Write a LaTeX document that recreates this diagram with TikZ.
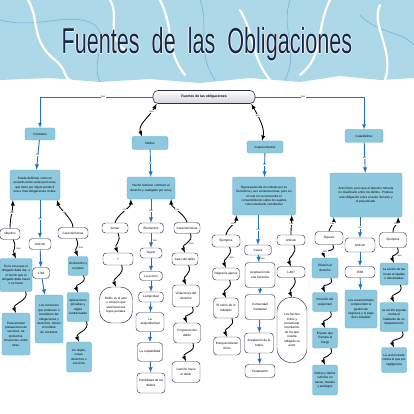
\documentclass[tikz,border=0pt]{standalone}
\usepackage{fontspec}
\setmainfont{Liberation Sans}
\usetikzlibrary{positioning}
\usetikzlibrary{calc}
\definecolor{celeste}{RGB}{140,200,222}
\definecolor{celesteborde}{RGB}{105,170,198}
\definecolor{marino}{RGB}{38,48,78}
\definecolor{azulflecha}{RGB}{32,112,188}
\definecolor{mapa}{RGB}{172,216,232}
\definecolor{frontera}{RGB}{120,178,222}
\definecolor{titulo}{RGB}{20,40,72}
\newcommand{\chica}{\fontsize{3.1}{4.4}\selectfont}
\newcommand{\etiq}{\fontsize{2.3}{2.5}\selectfont}
\tikzset{
  mapa conceptual/.style={
    concepto/.style={rectangle, align=center, font=\chica, inner sep=0.6pt},
    caja azul/.style={concepto, rounded corners=2pt, fill=celeste, draw=celesteborde, line width=0.3pt},
    caja blanca/.style={concepto, rounded corners=3.5pt, fill=white, draw=marino, line width=0.45pt},
    caja ovalo/.style={caja blanca, rounded corners=12pt},
    tam/.style 2 args={minimum width=##1pt, minimum height=##2pt},
    etiqueta/.style={fill=white, inner sep=0.4pt, font=\etiq},
    flecha azul/.style={draw=azulflecha, line width=0.9pt, ->},
    linea azul/.style={draw=azulflecha, line width=0.7pt, ->},
    curva/.style={draw=black, line width=0.85pt},
    ese/.style={to path={.. controls +(4,9) and +(-4,-9) .. (\tikztotarget) \tikztonodes}},
  },
  rio/.style={white, line width=2.2pt, line cap=round},
  borde mapa/.style={frontera, line width=0.6pt}
}

\begin{document}
\begin{tikzpicture}[x=1pt,y=-1pt,>=latex,mapa conceptual]
\useasboundingbox (0,0) rectangle (414,414);

% cabecera con el mapa
\fill[mapa] (0,0) -- (414,0) -- (414,78) -- (380,80) -- (340,76) -- (300,82) -- (250,78)
  -- (200,83) -- (150,79) -- (100,82) -- (50,78) -- (0,80) -- cycle;
\draw[borde mapa] (0,20) .. controls (40,30) and (70,10) .. (95,25) .. controls (110,40) and (90,60) .. (100,82);
\draw[borde mapa] (200,0) .. controls (210,25) and (195,50) .. (215,80);
\draw[borde mapa] (290,0) .. controls (280,30) and (300,50) .. (285,80);
\draw[borde mapa] (360,15) .. controls (380,35) and (400,30) .. (414,45);
\draw[rio] (28,0) .. controls (40,20) and (30,40) .. (55,60) .. controls (70,72) and (60,78) .. (75,82);
\draw[rio] (110,0) .. controls (120,15) and (105,35) .. (125,50);
\draw[rio] (160,0) .. controls (175,30) and (165,50) .. (185,75);
\draw[rio] (240,10) .. controls (255,35) and (250,55) .. (270,80);
\draw[rio] (330,0) .. controls (315,30) and (325,55) .. (300,75);
\draw[rio] (380,5) .. controls (370,25) and (395,50) .. (385,80);

% titulo
\foreach \dx/\dy in {0.7/0,-0.7/0,0/0.7,0/-0.7}
  \node[anchor=base, text=white] at (207+\dx,54+\dy)
    {\fontsize{36}{36}\selectfont\scalebox{0.6}[1]{Fuentes\hspace{10pt} de\hspace{10pt} las\hspace{10pt} Obligaciones}};
\node[anchor=base, text=titulo] (titulo) at (207,54)
  {\fontsize{36}{36}\selectfont\scalebox{0.6}[1]{Fuentes\hspace{10pt} de\hspace{10pt} las\hspace{10pt} Obligaciones}};

% raiz
\node[concepto, tam={102}{13}, rounded corners=5pt, draw=marino, line width=0.6pt,
  top color=white, bottom color=blue!12!gray!30, font=\fontsize{3.4}{4}\selectfont\bfseries]
  (raiz) at (204,97) {Fuentes de las obligaciones};

% contratos
\node[caja azul, tam={30}{12}] (contratos) at (40,134) {Contratos};
\node[caja azul, tam={50}{30}] (ctrdesc) at (35,185)
  {Puede definirse como un\\acuerdo entre varias personas,\\que tiene por objeto producir\\una o mas obligaciones civiles.};
\node[caja blanca, tam={20}{11}] (objetivo) at (10,234) {Objetivo};
\node[caja blanca, tam={22}{11}] (artcontrato) at (40,244) {Articulo};
\node[caja blanca, tam={30}{11}] (caraccontrato) at (73,233) {Características};
\node[caja azul, tam={32}{33}] (objdesc) at (16,275)
  {Es la cosa que el\\obligado debe dar, o\\el hecho que el\\obligado debe hacer\\o no hacer};
\node[caja azul, tam={28}{42}] (acordar) at (16,334)
  {Para acordar\\prestaciones de\\servicios, de\\productos,\\locaciones, entre\\otras.};
\node[caja blanca, tam={17}{11}] (art1793) at (41,273) {1793};
\node[caja azul, tam={28}{48}] (convenios) at (49,319)
  {Los convenios\\que producen o\\transfieren las\\obligaciones y\\derechos, toman\\el nombre\\de contratos};
\node[caja azul, tam={20}{19}] (derecho) at (78,266) {Un derecho y\\un plazo};
\node[caja azul, tam={22}{29}] (aplicaciones) at (78,307) {Aplicaciones\\privadas y\\reglas\\contractuales};
\node[caja azul, tam={25}{30}] (objeto) at (79,357) {Un objeto,\\cosas,\\derechos o\\servicios};

% delitos
\node[caja azul, tam={36}{13}] (delitos) at (150,143) {Delitos};
\node[caja azul, tam={48}{22}] (delidesc) at (151,188) {Hecho humano contrario al\\derecho y castigado por la ley};
\node[caja blanca, tam={26}{10}] (actuar) at (115,228) {Actuar};
\node[caja blanca, tam={25}{10}] (elementos) at (151,228) {Elementos};
\node[caja blanca, tam={26}{11}] (caracdelito) at (187,228) {Características};
\node[caja blanca, tam={30}{12}] (pregunta) at (118,259) {?};
\node[caja ovalo, tam={33}{36}] (delitodef) at (116,305) {Delito es el acto\\u omisión que\\sancionan las\\leyes penales};
\node[caja blanca, tam={22}{10}] (sujeto) at (151,253) {Sujeto};
\node[caja blanca, tam={23}{9}] (accion) at (151,276) {La acción};
\node[caja blanca, tam={25}{10}] (tipicidad) at (151,297) {La tipicidad};
\node[caja blanca, tam={28}{19}] (antijur) at (150,322) {La\\antijuridicidad};
\node[caja blanca, tam={25}{19}] (culpab) at (150,352) {La culpabilidad};
\node[caja blanca, tam={28}{20}] (punib) at (151,383) {Punibilidad de los\\delitos};
\node[caja blanca, tam={26}{12}] (caso) at (185,259) {Caso del delito};
\node[caja blanca, tam={27}{22}] (violaciones) at (186,296) {Violaciones del\\derecho};
\node[caja blanca, tam={27}{20}] (propuesto) at (187,333) {Propuesto del\\delito};
\node[caja blanca, tam={28}{21}] (camino) at (186,372) {Camino hacia\\el delito};

% cuasicontratos
\node[caja azul, tam={36}{12}] (cuasicontratos) at (265,147) {Cuasicontratos};
\node[caja azul, tam={63}{38}] (cuasicdesc) at (264,196)
  {Figura parecida al contrato por su\\fisonomía y sus consecuencias, pero en\\el cual no se encuentra el\\consentimiento sobre los sujetos\\como elemento constitutivo};
\node[caja blanca, tam={28}{12}] (ejemcuasic) at (226,241) {Ejemplos};
\node[caja blanca, tam={27}{10}] (casos) at (258,250) {Casos};
\node[caja blanca, tam={28}{10}] (artcuasic) at (291,240) {Articulo};
\node[caja blanca, tam={27}{12}] (negocios) at (226,274) {Negocios ajenos};
\node[caja blanca, tam={25}{20}] (cobro) at (226,308) {El cobro de lo\\indebido};
\node[caja blanca, tam={27}{18}] (enriquec) at (227,346) {Enriquecimiento\\ilícito};
\node[caja blanca, tam={30}{25}] (herencia) at (260,275) {Aceptación de\\una herencia};
\node[caja blanca, tam={30}{25}] (comunidad) at (260,307) {Comunidad\\incidental};
\node[caja blanca, tam={29}{20}] (tutela) at (259,343) {Aceptación de la\\tutela};
\node[caja blanca, tam={30}{13}] (testamento) at (260,371) {Testamento};
\node[caja blanca, tam={28}{11}] (art1387) at (291,272) {1.387};
\node[caja blanca, tam={30}{65}, rounded corners=14pt] (hechoslicitos) at (292,330)
  {Los hechos\\lícitos y\\puramente\\voluntarios,\\de los que\\resulta\\obligado su\\autor};

% cuasidelitos
\node[caja azul, tam={38}{13}] (cuasidelitos) at (364,136) {Cuasidelitos};
\node[caja azul, tam={72}{44}] (cuasiddesc) at (366,195)
  {Acto ilícito, pero que el derecho tomaría\\no clasificarlo entre los delitos. Produce\\una obligación entre el autor del acto y\\el perjudicado.};
\node[caja blanca, tam={28}{13}] (figuras) at (329,238) {Figuras};
\node[caja blanca, tam={30}{14}] (artcuasid) at (360,245) {Articulo};
\node[caja blanca, tam={27}{15}] (ejemcuasid) at (393,240) {Ejemplos};
\node[caja azul, tam={26}{20}] (efusion) at (325,268) {Efusión al\\derecho};
\node[caja azul, tam={25}{19}] (posicion) at (325,302) {Posición del\\suspensor};
\node[caja azul, tam={25}{20}] (paso) at (325,338) {El paso que\\Transita al\\Cargo};
\node[caja azul, tam={25}{30}] (robos) at (325,380) {Robos y daños\\sufridos en\\naves, hoteles\\y análogos};
\node[caja blanca, tam={30}{11}] (art1568) at (360,272) {1568};
\node[caja azul, tam={32}{38}] (comprenden) at (361,309)
  {Los cuasicontratos\\comprenden la\\gestión de\\negocios y el pago\\de lo indebido};
\node[caja azul, tam={28}{22}] (arrojadas) at (394,274) {La acción de las\\cosas arrojadas\\o derramadas};
\node[caja azul, tam={28}{29}] (popular) at (394,317) {La acción popular\\contra el\\habitante de un\\departamento};
\node[caja azul, tam={25}{25}] (negligencia) at (394,360) {La acción dada\\contra el que por\\negligencia};

% conectores de la raiz
\draw[linea azul] (raiz.west) -| node[etiqueta,pos=0.22]{Son} (contratos.north);
\draw[linea azul] (raiz.east) -| node[etiqueta,pos=0.22]{Son} (cuasidelitos.north);
\draw[curva,<->] ($(raiz.south west)+(4,0)$) .. controls +(-8,14) and +(-4,-12) ..
  node[etiqueta,pos=0.2]{Son} ($(delitos.north west)+(10,0)$);
\draw[curva,<->] ($(raiz.south east)+(-4,0)$) .. controls +(8,14) and +(3,-12) ..
  node[etiqueta,pos=0.3]{Son} ($(cuasicontratos.north)+(-3,0)$);

% contratos
\draw[flecha azul] (contratos) -- node[etiqueta]{Es} (ctrdesc);
\draw[curva,<-] ($(ctrdesc.south west)+(3,0)$) .. controls +(0,10) and +(0,-10) .. node[etiqueta,pos=.45]{Los} (objetivo.north);
\draw[flecha azul] (artcontrato.north |- ctrdesc.south) -- node[etiqueta]{Los} (artcontrato.north);
\draw[curva,<-] ($(ctrdesc.south east)+(-3,0)$) .. controls +(2,8) and +(0,-8) .. node[etiqueta,pos=.45]{Las} (caraccontrato.north);
\draw[curva,->] (objetivo.300) to[ese] node[etiqueta,right=1pt]{Son} (objdesc.north);
\draw[curva,->] (objdesc.300) to[ese] (acordar.north);
\draw[flecha azul] (artcontrato) -- (art1793);
\draw[flecha azul] (art1793) -- (convenios);
\draw[curva,->] (caraccontrato.300) to[ese] node[etiqueta,right=1pt]{Son} (derecho.north);
\draw[curva,->] (derecho.300) to[ese] (aplicaciones.north);
\draw[curva,->] (aplicaciones.300) to[ese] (objeto.north);

% delitos
\draw[flecha azul] (delitos) -- node[etiqueta]{Es} (delidesc);
\draw[curva,<-] ($(delidesc.south west)+(4,0)$) .. controls +(0,8) and +(2,-8) .. node[etiqueta,pos=.45]{Los} (actuar.north);
\draw[flecha azul] (elementos.north |- delidesc.south) -- node[etiqueta]{Los} (elementos.north);
\draw[curva,<-] ($(delidesc.south east)+(-4,0)$) .. controls +(0,8) and +(-2,-8) .. node[etiqueta,pos=.45]{Las} (caracdelito.north);
\draw[curva,->] (actuar.300) to[ese] (pregunta.north);
\draw[curva,->] (pregunta.300) to[ese] (delitodef.north);
\draw[flecha azul] (elementos) -- node[etiqueta,right=1pt]{Son} (sujeto);
\draw[flecha azul] (sujeto) -- (accion);
\draw[flecha azul] (accion) -- (tipicidad);
\draw[flecha azul] (tipicidad) -- (antijur);
\draw[flecha azul] (antijur) -- (culpab);
\draw[flecha azul] (culpab) -- (punib);
\draw[curva,->] (caracdelito.300) to[ese] node[etiqueta,right=1pt]{Son} (caso.north);
\draw[curva,->] (caso.300) to[ese] (violaciones.north);
\draw[curva,->] (violaciones.300) to[ese] (propuesto.north);
\draw[curva,->] (propuesto.300) to[ese] (camino.north);

% cuasicontratos
\draw[flecha azul] (cuasicontratos) -- node[etiqueta]{Es} (cuasicdesc);
\draw[curva,<-] ($(cuasicdesc.south west)+(4,0)$) .. controls +(0,8) and +(2,-8) .. node[etiqueta,pos=.45]{Los} (ejemcuasic.north);
\draw[flecha azul] (casos.north |- cuasicdesc.south) -- node[etiqueta]{Los} (casos.north);
\draw[curva,<-] ($(cuasicdesc.south east)+(-4,0)$) .. controls +(0,8) and +(0,-8) .. node[etiqueta,pos=.45]{Los} (artcuasic.north);
\draw[curva,->] (ejemcuasic.300) to[ese] node[etiqueta,right=1pt]{Son} (negocios.north);
\draw[curva,->] (negocios.300) to[ese] (cobro.north);
\draw[curva,->] (cobro.300) to[ese] (enriquec.north);
\draw[flecha azul] (casos) -- node[etiqueta,right=1pt]{Son} (herencia);
\draw[flecha azul] (herencia) -- (comunidad);
\draw[flecha azul] (comunidad) -- (tutela);
\draw[flecha azul] (tutela) -- (testamento);
\draw[curva,->] (artcuasic.300) to[ese] (art1387.north);
\draw[curva,->] (art1387.300) to[ese] (hechoslicitos.north);

% cuasidelitos
\draw[flecha azul] (cuasidelitos) -- node[etiqueta]{Es} (cuasiddesc);
\draw[curva,<-] ($(cuasiddesc.south west)+(4,0)$) .. controls +(0,7) and +(2,-7) .. node[etiqueta,pos=.45]{Las} (figuras.north);
\draw[flecha azul] (artcuasid.north |- cuasiddesc.south) -- node[etiqueta]{Los} (artcuasid.north);
\draw[curva,<-] ($(cuasiddesc.south east)+(-4,0)$) .. controls +(0,7) and +(0,-7) .. node[etiqueta,pos=.45]{Los} (ejemcuasid.north);
\draw[curva,->] (figuras.300) to[ese] node[etiqueta,left=1pt]{Son} (efusion.north);
\draw[curva,->] (efusion.300) to[ese] (posicion.north);
\draw[curva,->] (posicion.300) to[ese] (paso.north);
\draw[curva,->] (paso.300) to[ese] (robos.north);
\draw[flecha azul] (artcuasid) -- (art1568);
\draw[flecha azul] (art1568) -- (comprenden);
\draw[curva,->] (ejemcuasid.300) to[ese] node[etiqueta,right=1pt]{Son} (arrojadas.north);
\draw[curva,->] (arrojadas.300) to[ese] (popular.north);
\draw[curva,->] (popular.300) to[ese] (negligencia.north);
\end{tikzpicture}
\end{document}
